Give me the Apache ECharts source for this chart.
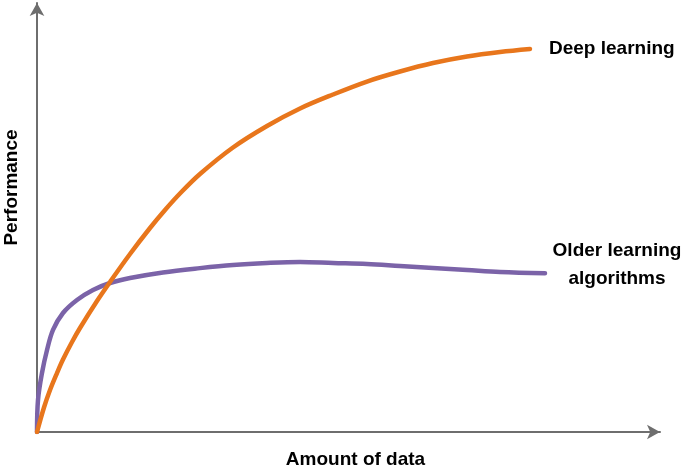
<!DOCTYPE html>
<html>
<head>
<meta charset="utf-8">
<script src="https://cdn.jsdelivr.net/npm/echarts@6/dist/echarts.min.js"></script>
<style>html,body{margin:0;padding:0;background:#fff;}#c{width:685px;height:468px;}</style>
</head>
<body>
<div id="c"></div>
<script>
// Amount of data (arbitrary units 0-100) and performance (0-100)
const deepX = [0, 1.12, 2.09, 3.21, 4.17, 5.62, 6.90, 9.63, 11.72, 14.93, 18.14, 20.55, 22.95, 26.16, 31.46, 36.92, 42.22, 47.51, 52.97, 58.27, 63.56, 69.02, 74.32, 79.13];
const deepY = [0, 5.71, 9.79, 13.75, 16.90, 20.98, 24.24, 30.54, 34.97, 41.49, 47.55, 51.75, 55.59, 60.14, 66.32, 71.33, 75.41, 78.67, 81.70, 84.03, 86.01, 87.53, 88.58, 89.28];
const olderX = [0, 0.16, 0.80, 1.61, 2.57, 4.17, 6.42, 8.99, 11.72, 14.93, 20.22, 26.16, 31.46, 36.92, 42.22, 47.51, 52.97, 58.27, 63.56, 69.02, 74.32, 81.54];
const olderY = [0, 7.46, 13.75, 19.11, 23.78, 27.74, 30.77, 33.10, 34.73, 35.90, 37.20, 38.20, 38.93, 39.39, 39.63, 39.39, 39.16, 38.69, 38.23, 37.76, 37.30, 37.00];
const xName = 'Amount of data';
const yName = 'Performance';
const deepLabel = 'Deep learning';
const olderLabel = 'Older learning\nalgorithms';

const chart = echarts.init(document.getElementById('c'));
const font = '"Liberation Sans", Arial, sans-serif';
const axisCommon = {
  type: 'value', min: 0, max: 100,
  axisTick: {show: false}, axisLabel: {show: false}, splitLine: {show: false},
  axisLine: {show: true, symbol: ['none', 'arrow'], symbolSize: [11, 13],
    lineStyle: {color: '#6e6e6e', width: 2}},
  nameLocation: 'middle'
};
const nameStyle = {fontFamily: font, fontWeight: 'bold', fontSize: 19, color: '#000'};
chart.setOption({
  animation: false,
  grid: {left: 37, right: 25, top: 3, bottom: 36, containLabel: false, outerBoundsMode: 'none'},
  xAxis: Object.assign({}, axisCommon, {name: xName, nameGap: 18,
    nameTextStyle: Object.assign({padding: [0, 0, 0, 14]}, nameStyle)}),
  yAxis: Object.assign({}, axisCommon, {name: yName, nameGap: 16, nameRotate: 90,
    nameTextStyle: Object.assign({padding: [0, 0, 0, 60]}, nameStyle)}),
  series: [
    {type: 'line', data: deepX.map((x, i) => [x, deepY[i]]), smooth: 0.35, showSymbol: false,
      lineStyle: {color: '#E8761C', width: 4.5, cap: 'round'}, z: 3,
      endLabel: {show: true, formatter: () => deepLabel, distance: 19,
        fontFamily: font, fontWeight: 'bold', fontSize: 19, color: '#000'}},
    {type: 'line', data: olderX.map((x, i) => [x, olderY[i]]), smooth: 0.35, showSymbol: false,
      lineStyle: {color: '#7B63A8', width: 4.5, cap: 'round'}, z: 2,
      endLabel: {show: true, formatter: () => olderLabel, align: 'center', offset: [64, -9],
        lineHeight: 28, fontFamily: font, fontWeight: 'bold', fontSize: 19, color: '#000'}}
  ]
});
</script>
</body>
</html>
